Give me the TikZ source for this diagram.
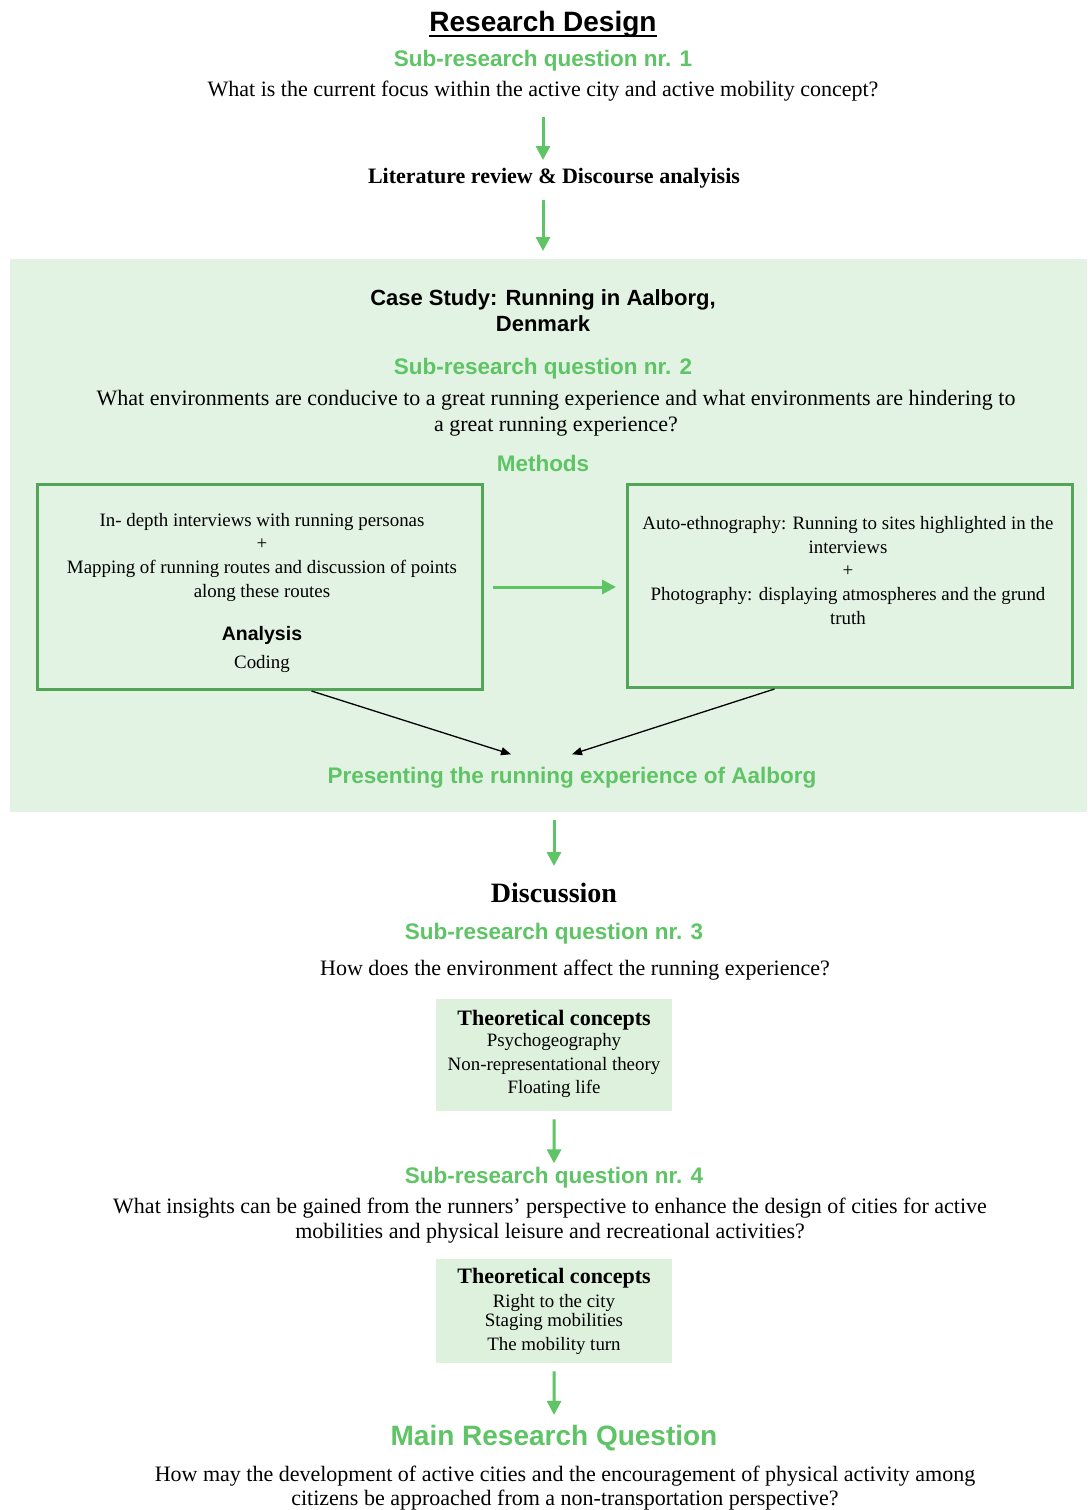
\documentclass[tikz,border=0pt]{standalone}
\usepackage{fontspec}
\setmainfont{Liberation Serif}
\setsansfont{Liberation Sans}
\usetikzlibrary{arrows.meta}
\definecolor{gtext}{HTML}{5EC465}
\definecolor{gborder}{HTML}{52A556}
\definecolor{gbg}{HTML}{E3F3E3}
\definecolor{gbox}{HTML}{DDF1DC}
\tikzset{
  body/.style={font=\fontsize{22}{26}\selectfont, align=center, inner sep=0pt, yshift=-2.5pt},
  boxtxt/.style={font=\fontsize{18.9}{24}\selectfont, align=center, inner sep=0pt, yshift=-2pt},
  ghead/.style={font=\sffamily\bfseries\fontsize{22.5}{26}\selectfont, text=gtext, inner sep=0pt, yshift=-3pt},
  khead/.style={font=\sffamily\bfseries\fontsize{22}{26}\selectfont, align=center, inner sep=0pt},
  garrow/.style={draw=gtext, line width=3pt, -{Triangle[length=14pt,width=14pt]}},
  karrow/.style={draw=black, line width=1.3pt, -{Triangle[length=10pt,width=8pt]}},
  methbox/.style={draw=gborder, line width=3pt, inner sep=0pt, anchor=north west},
  theobox/.style={fill=gbox, inner sep=0pt, anchor=north west, minimum width=236pt}
}
\begin{document}
\begin{tikzpicture}[x=1pt,y=-1pt]
\useasboundingbox[fill=white] (0,0) rectangle (1087,1510);
% background of case study
\node[fill=gbg, inner sep=0pt, anchor=north west, minimum width=1077pt, minimum height=553pt] (case) at (10,259) {};

\node[font=\sffamily\bfseries\fontsize{28}{32}\selectfont, inner sep=0pt, yshift=-3pt] (title) at (543,21) {Research Design};
\draw[line width=2.2pt] ([yshift=1pt]title.south west) -- ([yshift=1pt]title.south east);
\node[ghead] (srq1) at (543,58) {Sub-research question nr. 1};
\node[body] (q1) at (543,89) {What is the current focus within the active city and active mobility concept?};
\node[body, font=\bfseries\fontsize{22}{26}\selectfont] (lit) at (554,176) {Literature review \& Discourse analyisis};

\coordinate (a1s) at (543,117); \coordinate (a1e) at (543,160);
\coordinate (a2s) at (543,200); \coordinate (a2e) at (543,251);
\draw[garrow] (a1s) -- (a1e);
\draw[garrow] (a2s) -- (a2e);

\node[khead] (cs) at (543,311) {Case Study: Running in Aalborg,\\Denmark};
\node[ghead] (srq2) at (543,366) {Sub-research question nr. 2};
\node[body] (q2) at (556,411) {What environments are conducive to a great running experience and what environments are hindering to\\a great running experience?};
\node[ghead, yshift=3pt] (meth) at (543,463) {Methods};

\node[methbox, minimum width=445pt, minimum height=205pt] (lbox) at (36,483) {};
\node[methbox, minimum width=445pt, minimum height=203pt] (rbox) at (626,483) {};

\node[boxtxt] (lt1) at (262,520) {In- depth interviews with running personas};
\node[boxtxt] (lt2) at (262,542) {+};
\node[boxtxt] (lt3) at (262,579) {Mapping of running routes and discussion of points\\along these routes};
\node[khead, font=\sffamily\bfseries\fontsize{19.5}{22}\selectfont, yshift=-2pt] (ana) at (262,633) {Analysis};
\node[boxtxt] (cod) at (262,662) {Coding};

\node[boxtxt, yshift=1pt] (rt1) at (848,534) {Auto-ethnography: Running to sites highlighted in the\\interviews};
\node[boxtxt] (rt2) at (848,569) {+};
\node[boxtxt, yshift=1pt] (rt3) at (848,605) {Photography: displaying atmospheres and the grund\\truth};

\coordinate (a3s) at (493,587); \coordinate (a3e) at (616,587);
\draw[garrow] (a3s) -- (a3e);

\node[ghead, yshift=1pt] (pres) at (572,776) {Presenting the running experience of Aalborg};
\draw[karrow] ([xshift=51.5pt]lbox.south) -- ([xshift=-61pt,yshift=13pt]pres.north);
\draw[karrow] ([xshift=-75.5pt]rbox.south) -- ([xshift=0pt,yshift=13pt]pres.north);

\coordinate (a4s) at (554,820); \coordinate (a4e) at (554,866);
\draw[garrow] (a4s) -- (a4e);

\node[body, font=\bfseries\fontsize{28}{30}\selectfont, yshift=2pt] (disc) at (554,892) {Discussion};
\node[ghead] (srq3) at (554,931) {Sub-research question nr. 3};
\node[body] (q3) at (575,968) {How does the environment affect the running experience?};

\node[theobox, minimum height=112pt] (tb1) at (436,999) {};
\node[body, font=\bfseries\fontsize{22}{26}\selectfont] (tc1) at (554,1018) {Theoretical concepts};
\node[boxtxt] (tc1a) at (554,1040) {Psychogeography};
\node[boxtxt] (tc1b) at (554,1064) {Non-representational theory};
\node[boxtxt] (tc1c) at (554,1087) {Floating life};

\node[ghead] (srq4) at (554,1175) {Sub-research question nr. 4};
\draw[garrow] ([yshift=-8pt]tb1.south) -- ([yshift=4pt]srq4.north);

\node[body, font=\fontsize{22}{25}\selectfont] (q4) at (550,1218) {What insights can be gained from the runners' perspective to enhance the design of cities for active\\mobilities and physical leisure and recreational activities?};

\node[theobox, minimum height=104pt] (tb2) at (436,1259) {};
\node[body, font=\bfseries\fontsize{22}{26}\selectfont] (tc2) at (554,1276) {Theoretical concepts};
\node[boxtxt] (tc2a) at (554,1301) {Right to the city};
\node[boxtxt] (tc2b) at (554,1320) {Staging mobilities};
\node[boxtxt] (tc2c) at (554,1344) {The mobility turn};

\node[ghead, font=\sffamily\bfseries\fontsize{28}{32}\selectfont] (mrq) at (554,1435) {Main Research Question};
\draw[garrow] ([yshift=-8pt]tb2.south) -- ([yshift=10pt]mrq.north);

\node[body, font=\fontsize{22}{24}\selectfont] (mq) at (565,1486) {How may the development of active cities and the encouragement of physical activity among\\citizens be approached from a non-transportation perspective?};
\end{tikzpicture}
\end{document}
